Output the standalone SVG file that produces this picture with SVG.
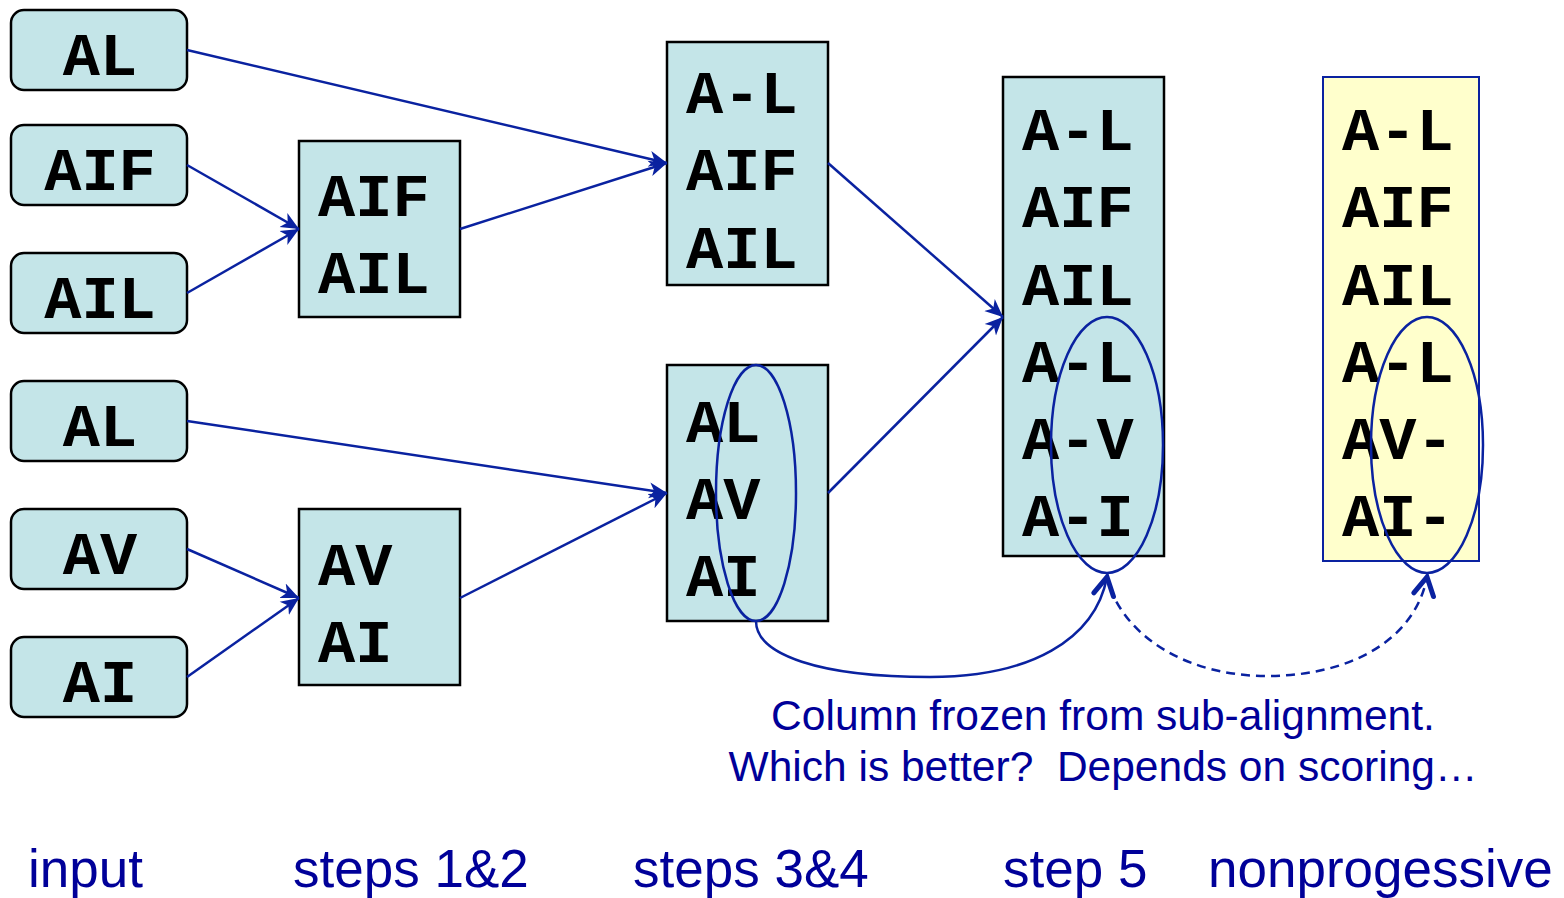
<svg xmlns="http://www.w3.org/2000/svg" width="1564" height="898" viewBox="0 0 1564 898">
<style>
.in{fill:#C4E5E8;stroke:#000;stroke-width:2.5}
.bx{fill:#C4E5E8;stroke:#000;stroke-width:2.5}
.yb{fill:#FFFFCC;stroke:#0A22A0;stroke-width:2}
.mono{font-family:"Liberation Mono","Courier New",monospace;font-weight:bold;font-size:62px;fill:#000}
.lab{font-family:"Liberation Sans",Arial,sans-serif;fill:#000099}
.con{stroke:#0A22A0;stroke-width:2.5;fill:none}
.ell{stroke:#0A22A0;stroke-width:2.5;fill:none}
</style>
<defs>
<marker id="ah" markerUnits="userSpaceOnUse" markerWidth="20" markerHeight="20" viewBox="0 0 20 20" refX="18" refY="10" orient="auto">
<path d="M0,2 L18,10 L0,18 L5,10 z" fill="#0A22A0"/>
</marker>
<marker id="ch" markerUnits="userSpaceOnUse" markerWidth="30" markerHeight="30" viewBox="0 0 30 30" refX="26" refY="15" orient="auto">
<path d="M8,5 L26,15 L8,25" fill="none" stroke="#0A22A0" stroke-width="5" stroke-linecap="round" stroke-linejoin="miter"/>
</marker>
</defs>

<g id="input-AL1"><rect class="in" x="11" y="10" width="176" height="80" rx="13"/><text class="mono" x="100" y="75" text-anchor="middle">AL</text></g>
<g id="input-AIF"><rect class="in" x="11" y="125" width="176" height="80" rx="13"/><text class="mono" x="100" y="190" text-anchor="middle">AIF</text></g>
<g id="input-AIL"><rect class="in" x="11" y="253" width="176" height="80" rx="13"/><text class="mono" x="100" y="318" text-anchor="middle">AIL</text></g>
<g id="input-AL2"><rect class="in" x="11" y="381" width="176" height="80" rx="13"/><text class="mono" x="100" y="446" text-anchor="middle">AL</text></g>
<g id="input-AV"><rect class="in" x="11" y="509" width="176" height="80" rx="13"/><text class="mono" x="100" y="574" text-anchor="middle">AV</text></g>
<g id="input-AI"><rect class="in" x="11" y="637" width="176" height="80" rx="13"/><text class="mono" x="100" y="702" text-anchor="middle">AI</text></g>

<g id="s12-a"><rect class="bx" x="299" y="141" width="161" height="176"/><text class="mono" x="318" y="216">AIF</text><text class="mono" x="318" y="293">AIL</text></g>
<g id="s12-b"><rect class="bx" x="299" y="509" width="161" height="176"/><text class="mono" x="318" y="585">AV</text><text class="mono" x="318" y="662">AI</text></g>

<g id="s34-a"><rect class="bx" x="667" y="42" width="161" height="243"/><text class="mono" x="686" y="113">A-L</text><text class="mono" x="686" y="190">AIF</text><text class="mono" x="686" y="268">AIL</text></g>
<g id="s34-b"><rect class="bx" x="667" y="365" width="161" height="256"/><text class="mono" x="686" y="442">AL</text><text class="mono" x="686" y="519">AV</text><text class="mono" x="686" y="596">AI</text></g>

<g id="s5"><rect class="bx" x="1003" y="77" width="161" height="479"/>
<text class="mono" x="1022" y="150">A-L</text><text class="mono" x="1022" y="227">AIF</text><text class="mono" x="1022" y="305">AIL</text><text class="mono" x="1022" y="382">A-L</text><text class="mono" x="1022" y="459">A-V</text><text class="mono" x="1022" y="536">A-I</text></g>

<g id="nonprog"><rect class="yb" x="1323" y="77" width="156" height="484"/>
<text class="mono" x="1342" y="150">A-L</text><text class="mono" x="1342" y="227">AIF</text><text class="mono" x="1342" y="305">AIL</text><text class="mono" x="1342" y="382">A-L</text><text class="mono" x="1342" y="459">AV-</text><text class="mono" x="1342" y="536">AI-</text></g>

<g id="ellipses">
<ellipse class="ell" cx="756" cy="493" rx="40" ry="128"/>
<ellipse class="ell" cx="1107" cy="445" rx="56" ry="128"/>
<ellipse class="ell" cx="1427" cy="445" rx="56" ry="128"/>
</g>

<g id="connectors">
<line class="con" x1="187" y1="50" x2="667" y2="163" marker-end="url(#ah)"/>
<line class="con" x1="187" y1="165" x2="299" y2="229" marker-end="url(#ah)"/>
<line class="con" x1="187" y1="293" x2="299" y2="229" marker-end="url(#ah)"/>
<line class="con" x1="460" y1="229" x2="667" y2="163" marker-end="url(#ah)"/>
<line class="con" x1="187" y1="421" x2="667" y2="493" marker-end="url(#ah)"/>
<line class="con" x1="187" y1="549" x2="299" y2="598" marker-end="url(#ah)"/>
<line class="con" x1="187" y1="677" x2="299" y2="598" marker-end="url(#ah)"/>
<line class="con" x1="460" y1="598" x2="667" y2="493" marker-end="url(#ah)"/>
<line class="con" x1="828" y1="163" x2="1003" y2="317" marker-end="url(#ah)"/>
<line class="con" x1="828" y1="493" x2="1003" y2="317" marker-end="url(#ah)"/>
<path class="con" d="M756,621 C756,655 820,677 930,677 C1030,677 1095,640 1107,577" marker-end="url(#ch)"/>
<path class="con" d="M1110,588 C1130,640 1190,676 1267,676 C1350,676 1415,640 1427,577" stroke-dasharray="9,6" marker-end="url(#ch)"/>
</g>

<g id="caption">
<text class="lab" x="1103" y="730" font-size="42.5" text-anchor="middle">Column frozen from sub-alignment.</text>
<text class="lab" x="1103" y="781" font-size="42.5" text-anchor="middle" xml:space="preserve">Which is better?  Depends on scoring…</text>
</g>

<g id="stage-labels">
<text class="lab" x="28" y="887" font-size="53">input</text>
<text class="lab" x="293" y="887" font-size="53">steps 1&amp;2</text>
<text class="lab" x="633" y="887" font-size="53">steps 3&amp;4</text>
<text class="lab" x="1003" y="887" font-size="53">step 5</text>
<text class="lab" x="1208" y="887" font-size="53">nonprogessive</text>
</g>
</svg>
